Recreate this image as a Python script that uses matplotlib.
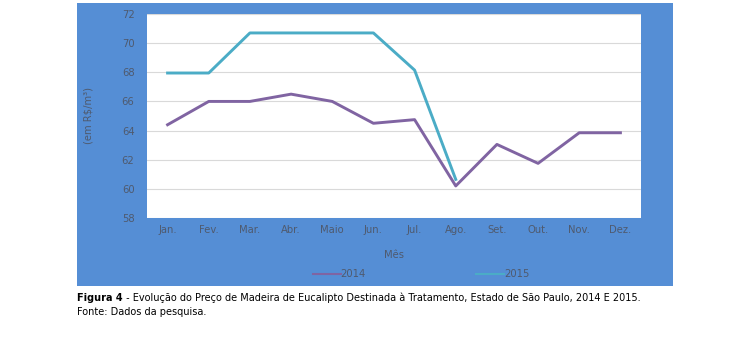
import numpy as np
import matplotlib
matplotlib.use("Agg")
from matplotlib import pyplot as plt

meses = ["Jan.", "Fev.", "Mar.", "Abr.", "Maio", "Jun.", "Jul.", "Ago.", "Set.", "Out.", "Nov.", "Dez."]
precos_2014 = [64.4, 66.0, 66.0, 66.5, 66.0, 64.5, 64.75, 60.2, 63.05, 61.75, 63.85, 63.85]
precos_2015 = [67.95, 67.95, 70.7, 70.7, 70.7, 70.7, 68.15, 60.65]
yticks = [58, 60, 62, 64, 66, 68, 70, 72]

W, H = 733, 351
fig = plt.figure(figsize=(W / 100, H / 100), dpi=100)
fig.patch.set_facecolor("white")

# painel azul de fundo
bg = fig.add_axes([77 / W, 1 - 286 / H, (673 - 77) / W, (286 - 3) / H])
bg.set_facecolor("#558ED5")
bg.set_xticks([])
bg.set_yticks([])
for s in bg.spines.values():
    s.set_visible(False)

ax = fig.add_axes([147 / W, 1 - 218 / H, (641 - 147) / W, (218 - 14) / H])
ax.set_zorder(2)
ax.set_facecolor("white")
x = np.arange(len(meses))
l1, = ax.plot(x, precos_2014, color="#8064A2", lw=2.1, label="2014")
l2, = ax.plot(x[:len(precos_2015)], precos_2015, color="#4BACC6", lw=2.1, label="2015")

ax.set_xlim(-0.5, 11.5)
ax.set_ylim(58, 72)
ax.set_yticks(yticks)
ax.set_xticks(x)
ax.set_xticklabels(meses)
ax.grid(axis="y", color="#D9D9D9", lw=0.8)
ax.set_axisbelow(True)
for s in ax.spines.values():
    s.set_visible(False)
ax.tick_params(length=0, colors="#4F5A6E", labelsize=7.2, pad=5)
ax.tick_params(axis="y", pad=9)
ax.set_xlabel("Mês", color="#4F5A6E", fontsize=7.2, labelpad=11)
ax.set_ylabel("(em R$/m³)", color="#4F5A6E", fontsize=7.2, labelpad=20)

leg = fig.legend(handles=[l1, l2], loc="center", bbox_to_anchor=(421 / W, 1 - 274 / H),
                 ncol=2, frameon=False, fontsize=7.2, handlelength=2.8,
                 handletextpad=0.0, columnspacing=11)
leg.set_zorder(3)
for t in leg.get_texts():
    t.set_color("#4F5A6E")
for h in leg.legend_handles:
    h.set_linewidth(1.5)

# legenda da figura
fs = 7.0
t0 = fig.text(77 / W, 1 - 298 / H, "Figura 4", fontsize=fs, fontweight="bold", va="center")
fig.add_artist(plt.Annotation(" - Evolução do Preço de Madeira de Eucalipto Destinada à Tratamento, Estado de São Paulo, 2014 E 2015.",
                              xy=(1, 0.5), xycoords=t0, va="center", ha="left", fontsize=fs))
fig.text(77 / W, 1 - 312 / H, "Fonte: Dados da pesquisa.", fontsize=fs, va="center")

fig.savefig("out.png", dpi=100)
